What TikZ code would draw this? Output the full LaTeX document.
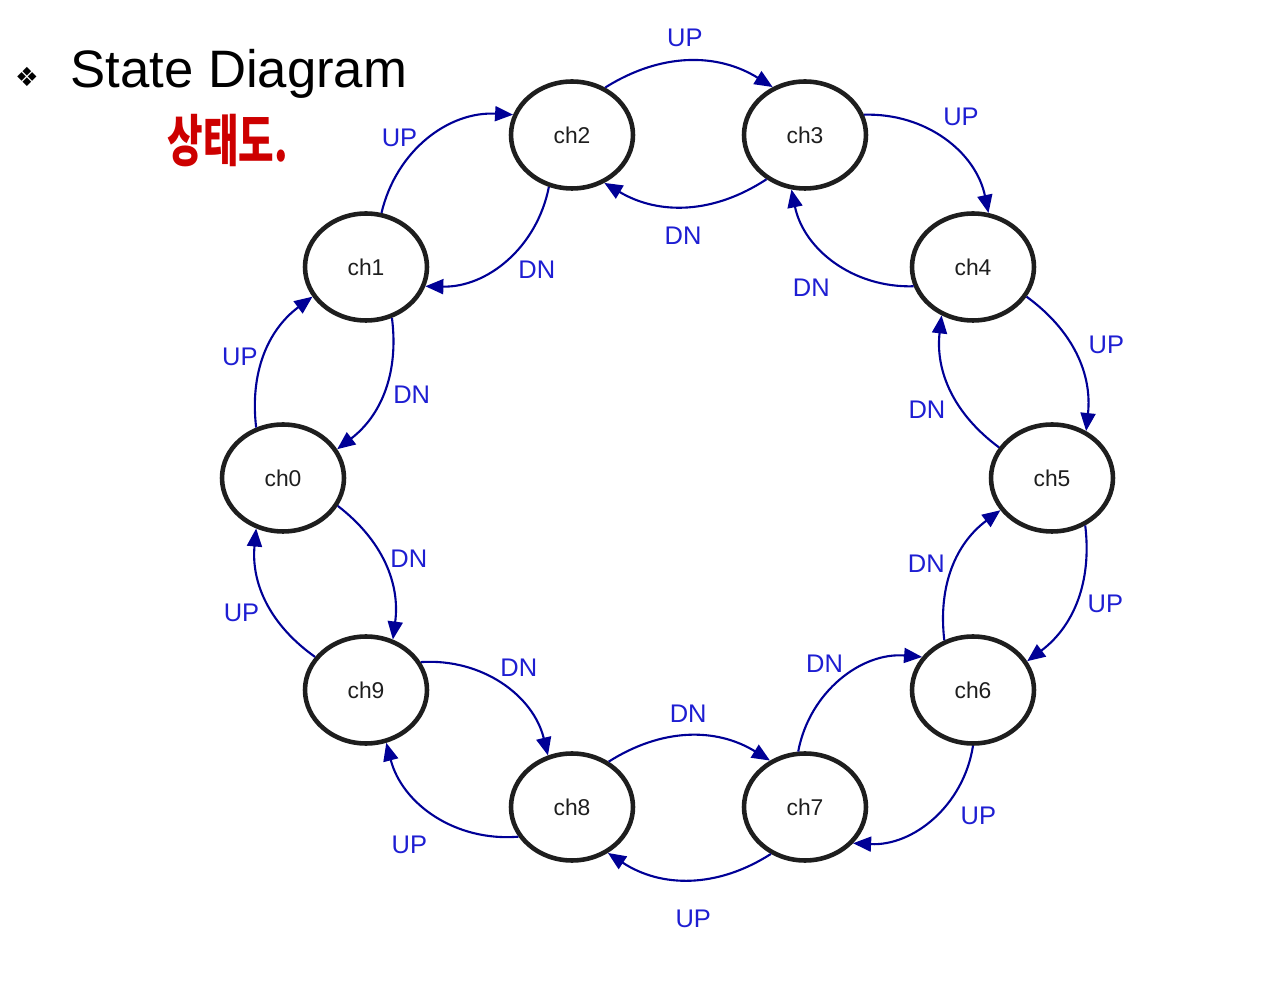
\documentclass[tikz,border=0pt]{standalone}
\usepackage{fontspec}
\setmainfont{Liberation Sans}
\newfontfamily\kofont{Noto Sans CJK KR}
\newfontfamily\symfont{DejaVu Sans}
\definecolor{arrowNavy}{RGB}{0,0,150}
\definecolor{labelBlue}{RGB}{30,30,210}
\definecolor{ringGray}{RGB}{30,30,30}
\definecolor{handRed}{RGB}{205,0,0}
\usetikzlibrary{arrows.meta, shapes.geometric}

\begin{document}
\begin{tikzpicture}[x=0.02cm, y=0.02cm,
  state/.style={ellipse, draw=ringGray, line width=2.6pt, minimum width=2.44cm,
    minimum height=2.14cm, inner sep=0pt, font=\fontsize{13}{15}\selectfont, text=ringGray},
  trans/.style={draw=arrowNavy, line width=1.2pt, -{Triangle[length=3.6mm,width=3mm]}},
  lbl/.style={font=\fontsize{14.5}{16}\selectfont, text=labelBlue, inner sep=2pt}]
  \useasboundingbox (0,0) rectangle (1278,-999);

  % Titulo
  \node[font=\symfont\fontsize{15}{15}\selectfont] (bullet) at (27,-77) {❖};
  \node[anchor=base west, font=\fontsize{30}{36}\selectfont, inner sep=0pt] (title) at (70,-88) {State Diagram};
  \node[font=\kofont\bfseries\fontsize{22}{22}\selectfont, text=handRed, yscale=1.45, transform shape] (hand) at (228,-141) {상태도.};

  % Estados
  \foreach \n/\x/\y in {ch0/283/478, ch1/366/267, ch2/572/135, ch3/805/135, ch4/973/267,
      ch5/1052/478, ch6/973/690, ch7/805/807, ch8/572/807, ch9/366/690}
    \node[state] (\n) at (\x,-\y) {\n};

  % Transiciones UP / DN (ultimo par: ajuste de la etiqueta)
  \foreach \a/\sa/\b/\eb/\bn/\l/\dx/\dy in {
      ch0/118/ch1/209/30/UP/-3/-16, ch1/297/ch0/28/30/DN/5/10,
      ch1/74/ch2/161/40/UP/-7/-12, ch2/246/ch1/342/40/DN/8/3,
      ch2/55/ch3/124/32/UP/-4/10, ch3/229/ch2/304/32/DN/-3/-16,
      ch3/19/ch4/74/40/UP/-6/10, ch4/198/ch3/256/40/DN/0/-14,
      ch4/331/ch5/54/30/UP/8/-3, ch5/150/ch4/237/30/DN/-1/-7,
      ch5/305/ch6/28/30/UP/7/11, ch6/120/ch5/212/30/DN/-4/-10,
      ch6/270/ch7/323/42/UP/24/16, ch7/97/ch6/147/42/DN/6/3,
      ch7/234/ch8/308/33/UP/4/-26, ch8/51/ch7/127/32/DN/-1/9,
      ch8/209/ch9/291/40/UP/-3/-17, ch9/27/ch8/115/40/DN/-6/4,
      ch9/147/ch0/242/30/UP/-3/2, ch0/333/ch9/62/30/DN/1/-7}
    \draw[trans] (\a.\sa) to[bend left=\bn] node[lbl, auto, shift={(\dx,\dy)}] {\l} (\b.\eb);
\end{tikzpicture}
\end{document}
